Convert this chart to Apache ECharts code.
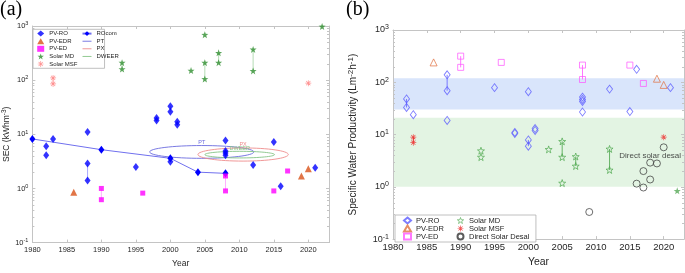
<!DOCTYPE html>
<html>
<head>
<meta charset="utf-8">
<script src="https://cdn.jsdelivr.net/npm/echarts@6/dist/echarts.min.js"></script>
<style>
html, body { margin: 0; padding: 0; background: #fff; }
#chart { width: 685px; height: 273px; }
</style>
</head>
<body>
<div id="chart"></div>
<script>
// ---------- panel (a): SEC (kWh/m3) vs year ----------
const roA = [[1982, 6.0], [1982, 4.1], [1983, 8.2], [1988, 11], [1988, 2.9], [1988, 1.4], [1995, 2.5],
  [1998, 18], [1998, 20], [2000, 33], [2000, 26], [2000, 3.1], [2001, 15], [2001, 17],
  [2008, 7.7], [2008, 4.9], [2008, 4.5], [2008, 4.1], [2012, 2.7], [2015, 7.2], [2016, 1.1], [2021, 2.4]];
const roComA = [[1980, 8.2], [1990, 5.2], [2000, 3.6], [2004, 2.0], [2008, 1.9]];
const edrA = [[1986, 0.85], [2019, 1.7], [2020, 2.3]];
const edA = [[1990, 1.0], [1990, 0.62], [1996, 0.82], [2008, 1.7], [2008, 0.9], [2015, 0.9], [2017, 2.1]];
const mdA = [[1993, 210], [1993, 160], [2003, 150], [2005, 690], [2005, 210], [2005, 105],
  [2007, 320], [2007, 210], [2012, 370], [2012, 148], [2022, 980]];
const msfA = [[1983, 110], [1983, 85], [2020, 88]];
// [year, low, high] for the thin connecting lines
const roLinksA = [[1988, 1.4, 2.9], [2000, 26, 33]];
const edLinksA = [[1990, 0.62, 1.0], [2008, 0.9, 1.7]];
const mdLinksA = [[1993, 160, 210], [2005, 105, 210], [2007, 210, 320], [2012, 148, 370]];
const msfLinksA = [[1983, 85, 110]];
// ellipses: [yearLeft, yearRight, low, high]
const ptA = [[1997.0, 2012.1, 3.6, 6.2]];
const pxA = [[2004.0, 2017.1, 3.2, 5.6]];
const dweerA = [[2005.0, 2015.1, 3.66, 4.85]];

// ---------- panel (b): specific water productivity ----------
const roB = [[1982, 48], [1982, 33], [1983, 24], [1988, 139], [1988, 69], [1988, 18.6], [1995, 79],
  [1998, 10.5], [1998, 11], [2000, 66], [2000, 7.9], [2000, 6.0], [2001, 12], [2001, 13],
  [2008, 52], [2008, 47], [2008, 43], [2008, 27], [2012, 74], [2015, 27.5], [2016, 177], [2021, 79]];
const edrB = [[1986, 240], [2019, 117], [2020, 89]];
const edB = [[1990, 316], [1990, 193], [1996, 240], [2008, 213], [2008, 113], [2015, 213], [2017, 95]];
const mdB = [[1993, 4.9], [1993, 3.7], [2003, 5.2], [2005, 7.4], [2005, 3.7], [2005, 1.18],
  [2007, 3.8], [2007, 2.5], [2012, 5.3], [2012, 2.1]];
const mdFilledB = [[2022, 0.84]];
const msfB = [[1983, 8.9], [1983, 7.0], [2020, 8.9]];
const directB = [[2009, 0.33], [2016, 1.15], [2017, 2.0], [2017, 0.97], [2018, 2.9], [2018, 1.38],
  [2019, 2.8], [2020, 5.7]];
const roLinksB = [[1982, 33, 48], [1988, 69, 139], [2000, 6.0, 7.9]];
const edLinksB = [[1990, 193, 316], [2008, 113, 213]];
const mdLinksB = [[2005, 3.7, 7.4], [2007, 2.5, 3.8], [2012, 2.1, 5.3]];
const msfLinksB = [[1983, 7.0, 8.9]];
const bandsB = [[30, 120], [1, 21]];
const bandColors = ['#d9e5fb', '#e3f4e3'];
const noteB = [[2018.0, 3.9]];

// log-axis minor tick values (2..9 of each decade)
const minorTicks = [0.2, 0.3, 0.4, 0.5, 0.6, 0.7, 0.8, 0.9, 2, 3, 4, 5, 6, 7, 8, 9,
  20, 30, 40, 50, 60, 70, 80, 90, 200, 300, 400, 500, 600, 700, 800, 900];

const STAR = 'path://M0,-5L1.18,-1.62L4.76,-1.55L1.9,0.62L2.94,4.05L0,2L-2.94,4.05L-1.9,0.62L-4.76,-1.55L-1.18,-1.62Z';
const ASTER = 'path://M-0.6,-5L0.6,-5L0.6,5L-0.6,5Z M-5,-0.6L5,-0.6L5,0.6L-5,0.6Z ' +
  'M-3.08,-3.92L3.92,3.08L3.08,3.92L-3.92,-3.08Z M-3.92,3.08L3.08,-3.92L3.92,-3.08L-3.08,3.92Z';
const LINE_ICON = 'path://M0,0h10v1h-10z';
const AX = '#c4c4c4';
const TXT = '#262626';
const MD_B = '#4fa84f';

function pow10(v) {
  const e = Math.round(Math.log10(v));
  return '{b|10}{s|' + e + '}';
}

function xAxis(grid, top, fs, gap, margin) {
  return {
    gridIndex: grid, type: 'value', min: 1980, max: 2023, interval: 5,
    position: top ? 'top' : 'bottom',
    axisLine: { show: true, onZero: false, lineStyle: { color: AX, width: 1 } },
    axisTick: { show: true, inside: true, length: 3, lineStyle: { color: AX } },
    axisLabel: { show: !top, fontSize: fs, color: TXT, margin: margin, showMaxLabel: false,
      formatter: function (v) { return String(v); } },
    splitLine: { show: false },
    name: top ? '' : 'Year', nameLocation: 'middle', nameGap: gap,
    nameTextStyle: { fontSize: fs + 1, color: TXT }
  };
}

function yAxis(grid, right, fs, name, gap) {
  return {
    gridIndex: grid, type: 'log', logBase: 10, min: 0.1, max: 1000,
    position: right ? 'right' : 'left',
    axisLine: { show: true, onZero: false, lineStyle: { color: AX, width: 1 } },
    axisTick: { show: true, inside: true, length: 3, lineStyle: { color: AX } },
    axisLabel: {
      show: !right, formatter: pow10, margin: 4, color: TXT,
      rich: {
        b: { fontSize: fs, lineHeight: fs + 3, color: TXT },
        s: { fontSize: fs - 2, lineHeight: fs - 1, verticalAlign: 'top', color: TXT }
      }
    },
    splitLine: { show: false },
    name: right ? '' : name, nameLocation: 'middle', nameRotate: 90, nameGap: gap,
    nameTextStyle: {
      rich: {
        n: { fontSize: fs + 1, color: TXT, lineHeight: fs + 4 },
        s: { fontSize: fs - 1, color: TXT, lineHeight: fs, verticalAlign: 'top' }
      }
    }
  };
}

function minorTickSeries(xi, yi) {
  return {
    type: 'custom', xAxisIndex: xi, yAxisIndex: yi, z: 1, silent: true,
    data: minorTicks, encode: { y: 0 },
    renderItem: function (params, api) {
      const cs = params.coordSys;
      const y = Math.round(api.coord([2000, api.value(0)])[1]) + 0.5;
      const st = { stroke: AX, lineWidth: 1 };
      return {
        type: 'group', children: [
          { type: 'line', shape: { x1: cs.x, y1: y, x2: cs.x + 2, y2: y }, style: st },
          { type: 'line', shape: { x1: cs.x + cs.width - 2, y1: y, x2: cs.x + cs.width, y2: y }, style: st }
        ]
      };
    }
  };
}

function links(data, color, xi, yi) {
  return {
    type: 'custom', xAxisIndex: xi, yAxisIndex: yi, z: 1, silent: true,
    data: data, encode: { x: 0, y: [1, 2] },
    renderItem: function (params, api) {
      const a = api.coord([api.value(0), api.value(1)]);
      const b = api.coord([api.value(0), api.value(2)]);
      return { type: 'line', shape: { x1: a[0], y1: a[1], x2: b[0], y2: b[1] },
        style: { stroke: color, lineWidth: 1 } };
    }
  };
}

function ellipse(name, data, color) {
  return {
    name: name, type: 'custom', xAxisIndex: 0, yAxisIndex: 0, z: 2, silent: true,
    itemStyle: { color: color },
    data: data, encode: { x: [0, 1], y: [2, 3] },
    renderItem: function (params, api) {
      const p1 = api.coord([api.value(0), api.value(3)]);
      const p2 = api.coord([api.value(1), api.value(2)]);
      const cx = (p1[0] + p2[0]) / 2, cy = (p1[1] + p2[1]) / 2;
      return {
        type: 'group', children: [
          { type: 'ellipse', shape: { cx: cx, cy: cy, rx: Math.abs(p2[0] - p1[0]) / 2, ry: Math.abs(p2[1] - p1[1]) / 2 },
            style: { fill: 'none', stroke: color, lineWidth: 0.9 } },
          { type: 'text', style: { text: name, x: cx, y: Math.min(p1[1], p2[1]) - 3.2, fill: color,
            fontSize: 5.5, align: 'center', verticalAlign: 'middle' } }
        ]
      };
    }
  };
}

function scat(name, data, xi, yi, symbol, size, fill, stroke) {
  return {
    name: name, type: 'scatter', xAxisIndex: xi, yAxisIndex: yi, z: 3,
    symbol: symbol, symbolSize: size, data: data,
    itemStyle: stroke ? { color: 'rgba(0,0,0,0)', borderColor: stroke, borderWidth: 0.9 } : { color: fill },
    emphasis: { disabled: true }
  };
}

const legendBase = {
  orient: 'vertical', itemGap: 1.6, itemHeight: 6, itemWidth: 7,
  textStyle: { fontSize: 6, color: TXT, lineHeight: 6 }, selectedMode: false
};
const legendBaseB = Object.assign({}, legendBase, {
  itemGap: 0, itemHeight: 6, itemWidth: 7,
  textStyle: { fontSize: 7.5, color: TXT, lineHeight: 7 },
  formatter: function (n) { return n.replace(/^b:/, ''); }
});

const option = {
  animation: false,
  textStyle: { fontFamily: 'Liberation Sans, Arial, sans-serif' },
  title: [
    { text: '(a)', left: 0, top: 0, padding: 0,
      textStyle: { fontFamily: 'Liberation Serif, serif', fontSize: 20, fontWeight: 'normal', color: '#000' } },
    { text: '(b)', left: 346, top: 0, padding: 0,
      textStyle: { fontFamily: 'Liberation Serif, serif', fontSize: 20, fontWeight: 'normal', color: '#000' } }
  ],
  legend: [
    Object.assign({}, legendBase, {
      left: 33, top: 29.3, padding: [1.3, 27, 1.3, 4.2], borderColor: '#b0b0b0', borderWidth: 0.8,
      backgroundColor: '#fff',
      data: ['PV-RO', 'PV-EDR', 'PV-ED', 'Solar MD', 'Solar MSF']
    }),
    Object.assign({}, legendBase, {
      left: 81.5, top: 30.6, padding: 0, itemWidth: 9, z: 10,
      data: ['ROcom', { name: 'PT', icon: LINE_ICON }, { name: 'PX', icon: LINE_ICON }, { name: 'DWEER', icon: LINE_ICON }]
    }),
    Object.assign({}, legendBaseB, {
      left: 395, top: 215, padding: [1.5, 92, 1.5, 8], borderColor: '#b0b0b0', borderWidth: 0.8,
      backgroundColor: '#fff',
      data: ['b:PV-RO', 'b:PV-EDR', 'b:PV-ED']
    }),
    Object.assign({}, legendBaseB, {
      left: 456.5, top: 216.5, padding: 0, z: 10,
      data: [
        { name: 'b:Solar MD', icon: STAR,
          itemStyle: { color: 'rgba(0,0,0,0)', borderColor: MD_B, borderWidth: 0.8 } },
        'b:Solar MSF', 'b:Direct Solar Desal'
      ]
    })
  ],
  grid: [
    { left: 30, right: 356, top: 26, bottom: 26 },
    { left: 393, right: 1, top: 30, bottom: 25 }
  ],
  xAxis: [xAxis(0, false, 7.5, 13.5, 3.5), xAxis(0, true, 7.5, 0, 0), xAxis(1, false, 9.5, 14.5, 3), xAxis(1, true, 9.5, 0, 0)],
  yAxis: [
    yAxis(0, false, 7.5, '{n|SEC (kWhm}{s|-3}{n|)}', 16),
    yAxis(0, true, 7.5, '', 0),
    yAxis(1, false, 9, '{n|Specific Water Productivity (Lm}{s|-2}{n|h}{s|-1}{n|)}', 33),
    yAxis(1, true, 9, '', 0)
  ],
  series: [
    // ---- panel (a)
    minorTickSeries(0, 0),
    links(roLinksA, '#a9a9ff', 0, 0),
    links(edLinksA, '#ffb0ff', 0, 0),
    links(mdLinksA, '#b5dcb5', 0, 0),
    links(msfLinksA, '#ffc0c0', 0, 0),
    ellipse('PT', ptA, '#6b6bdf'),
    ellipse('PX', pxA, '#ee8c8c'),
    ellipse('DWEER', dweerA, '#86c486'),
    {
      name: 'ROcom', type: 'line', xAxisIndex: 0, yAxisIndex: 0, z: 3, data: roComA,
      symbol: 'diamond', symbolSize: [6, 8], itemStyle: { color: '#0000ff' },
      lineStyle: { color: '#7070ee', width: 1 }, emphasis: { disabled: true }
    },
    scat('PV-RO', roA, 0, 0, 'diamond', [6, 8], '#0000ff'),
    scat('PV-EDR', edrA, 0, 0, 'triangle', 7, '#d95319'),
    scat('PV-ED', edA, 0, 0, 'rect', 5, '#ff00ff'),
    scat('Solar MD', mdA, 0, 0, STAR, 7, '#2f8f2f'),
    scat('Solar MSF', msfA, 0, 0, ASTER, 6, '#ff7b7b'),
    // ---- panel (b)
    {
      type: 'custom', xAxisIndex: 2, yAxisIndex: 2, z: 0, silent: true,
      data: bandsB, encode: { y: [0, 1] },
      renderItem: function (params, api) {
        const cs = params.coordSys;
        const y1 = api.coord([1990, api.value(1)])[1];
        const y2 = api.coord([1990, api.value(0)])[1];
        return { type: 'rect', shape: { x: cs.x, y: y1, width: cs.width, height: y2 - y1 },
          style: { fill: bandColors[params.dataIndex] } };
      }
    },
    minorTickSeries(2, 2),
    links(roLinksB, '#7878ff', 2, 2),
    links(edLinksB, '#ff77ff', 2, 2),
    links(mdLinksB, '#66b366', 2, 2),
    links(msfLinksB, '#ee4444', 2, 2),
    scat('b:PV-RO', roB, 2, 2, 'diamond', [6, 8], null, '#5c5cff'),
    scat('b:PV-EDR', edrB, 2, 2, 'triangle', 7, null, '#e0703f'),
    scat('b:PV-ED', edB, 2, 2, 'rect', 6, null, '#ff55ff'),
    scat('b:Solar MD', mdB, 2, 2, STAR, 7, null, MD_B),
    scat('b:Solar MSF', msfB, 2, 2, ASTER, 6, '#ee2a2a'),
    scat('b:Direct Solar Desal', directB, 2, 2, 'circle', 7, null, '#333333'),
    scat('mdFilled', mdFilledB, 2, 2, STAR, 7, '#55a855'),
    {
      type: 'scatter', xAxisIndex: 2, yAxisIndex: 2, z: 4, silent: true, symbolSize: 0, data: noteB,
      label: { show: true, position: 'inside', formatter: 'Direct solar desal', fontSize: 8, color: '#222' }
    }
  ]
};

const chart = echarts.init(document.getElementById('chart'));
chart.setOption(option);
</script>
</body>
</html>
